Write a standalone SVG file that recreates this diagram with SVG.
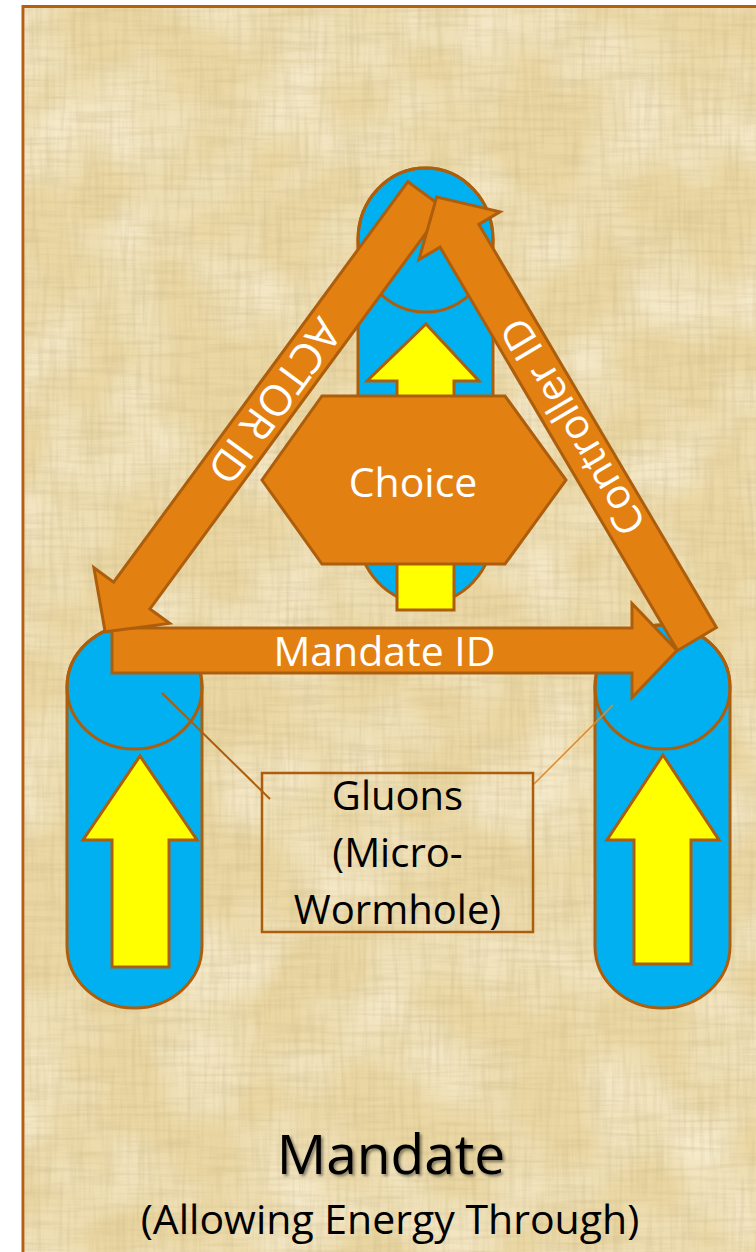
<svg xmlns="http://www.w3.org/2000/svg" width="756" height="1252" viewBox="0 0 756 1252">
  <defs>
    <style>
      .cyl { fill: #00b0f0; stroke: #ad5e0c; stroke-width: 3; }
      .cyl-top { fill: none; stroke: #ad5e0c; stroke-width: 3; }
      .yarrow { fill: #ffff00; stroke: #ad5e0c; stroke-width: 3; stroke-linejoin: miter; }
      .barrow { fill: #e38012; stroke: #ad5e0c; stroke-width: 3; stroke-linejoin: miter; }
      .wlabel { font-family: "Open Sans", "DejaVu Sans", sans-serif; font-size: 41px; fill: #ffffff; text-anchor: middle; }
      .blabel { font-family: "Open Sans", "DejaVu Sans", sans-serif; font-size: 40px; fill: #000000; text-anchor: middle; }
      .leader { stroke: #ad5e0c; stroke-width: 2; fill: none; }
      .leader-light { stroke: #e08a2a; stroke-width: 1.5; fill: none; }
    </style>
    <filter id="papyrus" x="24" y="8" width="732" height="1244" filterUnits="userSpaceOnUse">
      <feTurbulence type="fractalNoise" baseFrequency="0.015 0.22" numOctaves="3" seed="3" result="v"/>
      <feColorMatrix in="v" type="matrix" values="0 0 0 0 0.62  0 0 0 0 0.5  0 0 0 0 0.25  0.9 0 0 0 -0.38" result="vd"/>
      <feTurbulence type="fractalNoise" baseFrequency="0.22 0.015" numOctaves="3" seed="7" result="h"/>
      <feColorMatrix in="h" type="matrix" values="0 0 0 0 0.62  0 0 0 0 0.5  0 0 0 0 0.25  0.9 0 0 0 -0.38" result="hd"/>
      <feTurbulence type="fractalNoise" baseFrequency="0.012 0.012" numOctaves="2" seed="11" result="b"/>
      <feColorMatrix in="b" type="matrix" values="0 0 0 0 1  0 0 0 0 0.96  0 0 0 0 0.82  1.1 0 0 0 -0.4" result="bl"/>
      <feMerge result="m">
        <feMergeNode in="SourceGraphic"/>
        <feMergeNode in="bl"/>
        <feMergeNode in="vd"/>
        <feMergeNode in="hd"/>
      </feMerge>
      <feComposite in="m" in2="SourceGraphic" operator="in"/>
    </filter>
    <filter id="shadow" x="-10%" y="-20%" width="130%" height="160%">
      <feDropShadow dx="2" dy="2" stdDeviation="1.5" flood-color="#000000" flood-opacity="0.45"/>
    </filter>
  </defs>

  <g id="background">
    <rect x="0" y="0" width="756" height="1252" fill="#ffffff"/>
    <rect x="24.5" y="8" width="732" height="1244" fill="#ead7a3" filter="url(#papyrus)"/>
    <rect x="23" y="6.5" width="760" height="1260" fill="none" stroke="#b5600f" stroke-width="3"/>
  </g>

  <g id="cylinder-left">
    <path class="cyl" d="M67,687 A67.5,62 0 0 1 202,687 V946 A67.5,62 0 0 1 67,946 Z"/>
    <ellipse class="cyl-top" cx="134.5" cy="687" rx="67.5" ry="62"/>
    <path class="yarrow" d="M140,756 L197,840 H169 V967 H112 V840 H83 Z"/>
  </g>

  <g id="cylinder-right">
    <path class="cyl" d="M595,687 A67.5,62 0 0 1 730,687 V946 A67.5,62 0 0 1 595,946 Z"/>
    <ellipse class="cyl-top" cx="662.5" cy="687" rx="67.5" ry="62"/>
    <path class="yarrow" d="M663,755 L719,840 H691 V964 H634 V840 H607 Z"/>
  </g>

  <g id="cylinder-center">
    <path class="cyl" d="M358,240 A67.5,72 0 0 1 493,240 V531 A67.5,72 0 0 1 358,531 Z"/>
    <ellipse class="cyl-top" cx="425.5" cy="240" rx="67.5" ry="72"/>
    <path class="yarrow" d="M426,324 L479,381 H454 V610 H397 V381 H367 Z"/>
  </g>

  <g id="choice">
    <polygon class="barrow" points="322,396 505,396 566,480 505,564 322,564 262,480"/>
    <text class="wlabel" x="413" y="497">Choice</text>
  </g>

  <g id="connectors">
    <g id="mandate-id" transform="translate(112,650.5)">
      <path class="barrow" d="M0,-22.5 H520 V-47 L565,0 L520,47 V22.5 H0 Z"/>
      <text class="wlabel" x="272.5" y="15">Mandate ID</text>
    </g>
    <g id="actor-id" transform="translate(426,195) rotate(126.3)">
      <path class="barrow" d="M0,-22.5 H497 V-47 L542,0 L497,47 V22.5 H0 Z"/>
      <text class="wlabel" x="256" y="15" style="font-size:43px">ACTOR ID</text>
    </g>
    <g id="controller-id" transform="translate(697,639) rotate(-120.5)">
      <path class="barrow" d="M0,-22.5 H468 V-47 L513,0 L468,47 V22.5 H0 Z"/>
      <text class="wlabel" x="246" y="15">Controller ID</text>
    </g>
    <line class="leader" x1="162" y1="693" x2="270" y2="799"/>
    <line class="leader-light" x1="613" y1="705" x2="533" y2="785"/>
  </g>

  <g id="gluons">
    <rect x="262" y="773" width="271" height="159" fill="none" stroke="#ad5e0c" stroke-width="2.5"/>
    <text class="blabel" x="397.5" y="810">Gluons</text>
    <text class="blabel" x="397.5" y="867">(Micro-</text>
    <text class="blabel" x="397.5" y="924">Wormhole)</text>
  </g>

  <g id="title">
    <text x="391" y="1174" font-family="Open Sans, DejaVu Sans, sans-serif" font-size="55" fill="#000000" text-anchor="middle" filter="url(#shadow)">Mandate</text>
    <text x="390" y="1234" font-family="Open Sans, DejaVu Sans, sans-serif" font-size="41" fill="#000000" text-anchor="middle">(Allowing Energy Through)</text>
  </g>
</svg>
